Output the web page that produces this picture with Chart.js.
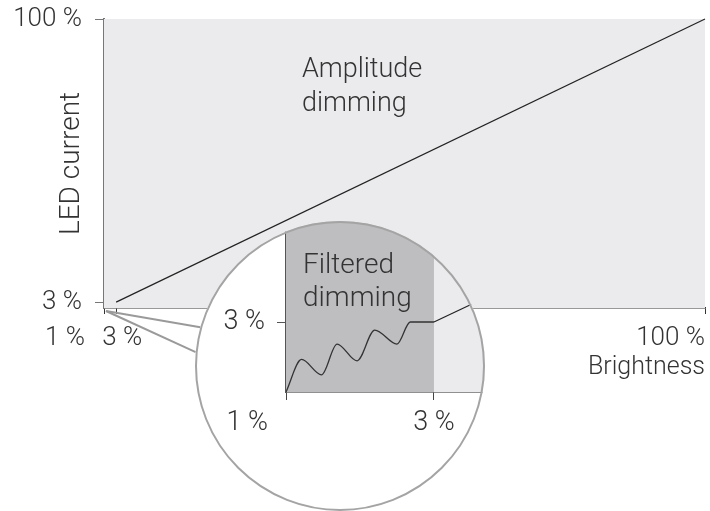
<!DOCTYPE html>
<html>
<head>
<meta charset="utf-8">
<script src="https://cdn.jsdelivr.net/npm/chart.js@4.4.0/dist/chart.umd.min.js"></script>
<style>
  html, body { margin: 0; padding: 0; background: #fff; }
  #wrap { position: relative; width: 710px; height: 511px; overflow: hidden; }
  #main { position: absolute; left: 0; top: 0; }
  #lens { position: absolute; left: 195px; top: 221px; width: 290px; height: 290px;
          border-radius: 50%; overflow: hidden; background: #fff; }
  #lens canvas { position: absolute; left: 0; top: 0; }
  #ring { position: absolute; left: 195px; top: 221px; width: 290px; height: 290px;
          border-radius: 50%; border: 2px solid #a4a4a4; box-sizing: border-box; pointer-events: none; }
</style>
</head>
<body>
<div id="wrap">
  <canvas id="main" width="710" height="511"></canvas>
  <div id="lens"><canvas id="zoom" width="290" height="290"></canvas></div>
  <div id="ring"></div>
</div>
<script>
// main chart: LED current vs brightness (%)
const mainXTicks = [1, 3, 100];
const mainXLabels = ["1 %", "3 %", "100 %"];
const mainYTicks = [3, 100];
const amplitudeX = [3, 100];
const amplitudeY = [3, 100];

// magnified view 1 % .. 3 %
const zoomXTicks = [1, 3];
const zoomXLabels = ["1 %", "3 %"];
const zoomYTicks = [3];
const filteredX = [1, 1.21, 1.48, 1.69, 1.96, 2.2, 2.5, 2.68, 3];
const filteredY = [1, 1.93, 1.49, 2.37, 1.89, 2.77, 2.37, 3, 3];
const zoomLineX = [3, 4];
const zoomLineY = [3, 4];

const ink = "#333";
const light = "#ebebed";
const dark = "#bebec0";
const fam = "Roboto, 'Open Sans', sans-serif";

const toPoints = (xs, ys) => xs.map((x, i) => ({ x: x, y: ys[i] }));

// y axes: fixed width, no extra room for the top label
const fixY = (w) => (s) => {
  s.width = w;
  s.paddingTop = 0;
  s.paddingBottom = 0;
};

// draws note text and x tick labels (labels sit off their ticks in the original)
const textPlugin = {
  id: "notes",
  afterDraw(chart, args, opts) {
    const { ctx } = chart;
    const xs = chart.scales.x, ys = chart.scales.y;
    ctx.save();
    ctx.fillStyle = ink;
    ctx.font = "300 " + opts.noteSize + "px " + fam;
    ctx.textAlign = "left";
    ctx.textBaseline = "alphabetic";
    opts.notes.forEach((n) => {
      const px = xs.getPixelForValue(n.x), py = ys.getPixelForValue(n.y);
      n.lines.forEach((t, i) => ctx.fillText(t, px, py + i * opts.noteGap));
    });
    ctx.font = "300 " + opts.tickSize + "px " + fam;
    ctx.textBaseline = "middle";
    opts.ticks.forEach((t) => {
      ctx.textAlign = t.align;
      ctx.fillText(t.text, xs.getPixelForValue(t.value) + t.dx, xs.top + opts.tickDy);
    });
    ctx.restore();
  },
};

// grey lines from the magnified spot to the lens
const lensPlugin = {
  id: "lensLines",
  afterDraw(chart) {
    const lens = document.getElementById("lens");
    const r = lens.offsetWidth / 2;
    const cx = lens.offsetLeft + r, cy = lens.offsetTop + r;
    const sx = chart.scales.x.getPixelForValue(1) + 2;
    const sy = chart.scales.y.getPixelForValue(1) + 3;
    const ctx = chart.ctx;
    ctx.save();
    ctx.strokeStyle = "#9a9a9a";
    ctx.lineWidth = 2;
    [195.5, 185.5].forEach((deg) => {
      const a = (deg * Math.PI) / 180;
      ctx.beginPath();
      ctx.moveTo(sx, sy);
      ctx.lineTo(cx + r * Math.cos(a), cy + r * Math.sin(a));
      ctx.stroke();
    });
    ctx.restore();
  },
};

let mainChart = new Chart(document.getElementById("main"), {
  type: "line",
  data: {
    datasets: [
      {
        label: "Amplitude dimming",
        data: toPoints(amplitudeX, amplitudeY),
        borderColor: "#222",
        borderWidth: 1.2,
        pointRadius: 0,
        fill: false,
        clip: false,
      },
      {
        label: "area",
        data: toPoints([1, 100], [100, 100]),
        borderWidth: 0,
        pointRadius: 0,
        backgroundColor: light,
        fill: "start",
      },
    ],
  },
  options: {
    responsive: false,
    animation: false,
    events: [],
    layout: { padding: { top: 19, right: 5, left: 0, bottom: 0 } },
    scales: {
      x: {
        type: "linear",
        min: 1,
        max: 100,
        afterBuildTicks: (s) => { s.ticks = mainXTicks.map((v) => ({ value: v })); },
        afterFit: (s) => { s.height = 203; },
        ticks: { display: false },
        grid: { drawOnChartArea: false, tickLength: 6, color: ink, lineWidth: 1 },
        border: { color: ink, width: 1.5 },
        title: {
          display: true,
          text: "Brightness",
          align: "end",
          color: ink,
          font: { family: fam, size: 25, weight: "300" },
          padding: { top: 0, bottom: 128 },
        },
      },
      y: {
        type: "linear",
        min: 1,
        max: 100,
        afterBuildTicks: (s) => { s.ticks = mainYTicks.map((v) => ({ value: v })); },
        afterFit: fixY(104),
        ticks: {
          color: ink,
          padding: 13,
          font: { family: fam, size: 26, weight: "300" },
          callback: (v) => v + " %",
        },
        grid: { drawOnChartArea: false, tickLength: 9, color: "#777" },
        border: { color: "#777", width: 2 },
        title: {
          display: true,
          text: "LED current",
          color: ink,
          font: { family: fam, size: 28, weight: "300" },
          padding: { top: 55, bottom: 0 },
        },
      },
    },
    plugins: {
      legend: { display: false },
      tooltip: { enabled: false },
      notes: {
        noteSize: 27,
        noteGap: 33.4,
        notes: [{ x: 33.6, y: 80, lines: ["Amplitude", "dimming"] }],
        tickSize: 26,
        tickDy: 30,
        ticks: [
          { value: mainXTicks[0], text: mainXLabels[0], align: "right", dx: -19 },
          { value: mainXTicks[1], text: mainXLabels[1], align: "left", dx: -14 },
          { value: mainXTicks[2], text: mainXLabels[2], align: "right", dx: 0 },
        ],
      },
    },
  },
  plugins: [textPlugin, lensPlugin],
});

let zoomChart = new Chart(document.getElementById("zoom"), {
  type: "line",
  data: {
    datasets: [
      {
        label: "Filtered dimming",
        data: toPoints(filteredX, filteredY),
        borderColor: ink,
        borderWidth: 1.3,
        pointRadius: 0,
        cubicInterpolationMode: "monotone",
        fill: false,
      },
      {
        label: "Amplitude dimming",
        data: toPoints(zoomLineX, zoomLineY),
        borderColor: "#222",
        borderWidth: 1.2,
        pointRadius: 0,
        fill: false,
      },
      {
        label: "filtered area",
        data: toPoints([1, 3], [10, 10]),
        borderWidth: 0,
        pointRadius: 0,
        backgroundColor: dark,
        fill: "start",
      },
      {
        label: "area",
        data: toPoints([1, 10], [10, 10]),
        borderWidth: 0,
        pointRadius: 0,
        backgroundColor: light,
        fill: "start",
      },
    ],
  },
  options: {
    responsive: false,
    animation: false,
    events: [],
    layout: { padding: 0 },
    scales: {
      x: {
        type: "linear",
        min: 1,
        max: 3.69,
        afterBuildTicks: (s) => { s.ticks = zoomXTicks.map((v) => ({ value: v })); },
        afterFit: (s) => { s.height = 119; },
        ticks: { display: false },
        grid: { drawOnChartArea: false, tickLength: 8, color: "#444", lineWidth: 1 },
        border: { color: "#222", width: 1.5 },
      },
      y: {
        type: "linear",
        min: 1,
        max: 5.886,
        afterBuildTicks: (s) => { s.ticks = zoomYTicks.map((v) => ({ value: v })); },
        afterFit: fixY(91),
        ticks: {
          color: ink,
          padding: 12,
          font: { family: fam, size: 27, weight: "300" },
          callback: (v) => v + " %",
        },
        grid: { drawOnChartArea: false, tickLength: 9, color: "#555" },
        border: { color: "#555", width: 1.5 },
      },
    },
    plugins: {
      legend: { display: false },
      tooltip: { enabled: false },
      notes: {
        noteSize: 28,
        noteGap: 33,
        notes: [{ x: 1.23, y: 4.41, lines: ["Filtered", "dimming"] }],
        tickSize: 27,
        tickDy: 31,
        ticks: [
          { value: zoomXTicks[0], text: zoomXLabels[0], align: "right", dx: -18 },
          { value: zoomXTicks[1], text: zoomXLabels[1], align: "center", dx: 0 },
        ],
      },
    },
  },
  plugins: [textPlugin],
});
</script>
</body>
</html>
